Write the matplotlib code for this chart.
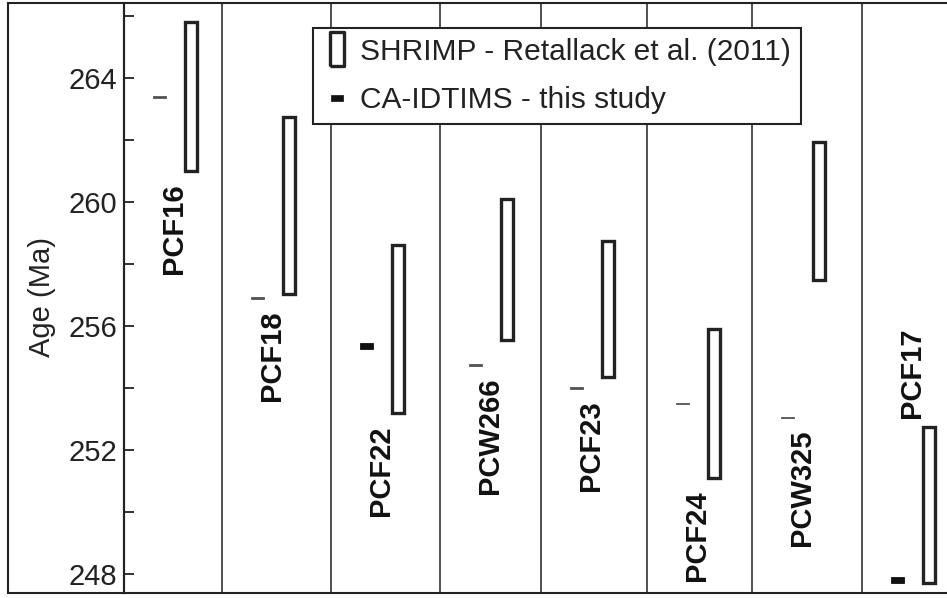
import matplotlib.pyplot as plt
from matplotlib.lines import Line2D
from matplotlib.patches import Rectangle
from matplotlib.path import Path

plt.rcParams['font.family'] = ['Liberation Sans', 'DejaVu Sans']

# data (Ma)
samples = ['PCF16', 'PCF18', 'PCF22', 'PCW266', 'PCF23', 'PCF24', 'PCW325', 'PCF17']
shrimp_lo = [261.0, 257.05, 253.2, 255.55, 254.35, 251.1, 257.5, 247.7]
shrimp_hi = [265.8, 262.75, 258.6, 260.1, 258.75, 255.9, 261.95, 252.75]
tims_age = [263.4, 256.9, 255.35, 254.75, 254.0, 253.5, 253.05, 247.8]
tims_err = [0.03, 0.03, 0.10, 0.03, 0.03, 0.03, 0.03, 0.09]
label_above = [False, False, False, False, False, False, False, True]

# layout (pixel-like x units)
col_edges = [124, 222, 331, 440, 541, 647, 752, 862]
box_off, tick_off, lab_off = 67, 35, 50
W, H = 947, 598
line_c = '#222222'

fig = plt.figure(figsize=(W / 100, H / 100), dpi=100)
ax = fig.add_axes([124 / W, 5 / H, 1 - 124 / W, 590 / H])
ax.set_xlim(124, 947)
ax.set_ylim(247.39, 266.42)

for e in col_edges[1:]:
    ax.axvline(e, color=line_c, lw=1.1)

for i, name in enumerate(samples):
    e = col_edges[i]
    ax.bar(e + box_off, shrimp_hi[i] - shrimp_lo[i], bottom=shrimp_lo[i], width=12,
           fill=False, edgecolor=line_c, linewidth=2.4)
    thick = tims_err[i] > 0.05
    c = '#111111' if thick else '#555555'
    ax.bar(e + tick_off, 2 * tims_err[i], bottom=tims_age[i] - tims_err[i], width=13,
           color=c, edgecolor=c, linewidth=0.6)
    if label_above[i]:
        ax.text(e + lab_off, shrimp_hi[i] + 0.3, name, rotation=90, ha='center', va='bottom',
                fontsize=21, fontweight='bold', color='#111111')
    else:
        y0 = min(shrimp_lo[i], tims_age[i]) - 0.4
        ax.text(e + lab_off, y0, name, rotation=90, ha='center', va='top',
                fontsize=21, fontweight='bold', color='#111111')

ax.set_yticks([248, 252, 256, 260, 264])
ax.set_yticks([250, 254, 258, 262, 266], minor=True)
ax.set_xticks([])
ax.tick_params(axis='y', which='both', direction='in', length=7, width=1.3,
               pad=5, labelsize=21, colors=line_c)
for s in ['left', 'top', 'bottom']:
    ax.spines[s].set_color(line_c)
    ax.spines[s].set_linewidth(1.5)
ax.spines['right'].set_visible(False)

# outer frame around the label area
fig.patches.append(Rectangle((8 / W, 5 / H), (124 - 8) / W, 590 / H, transform=fig.transFigure,
                             fill=False, edgecolor=line_c, linewidth=1.5))
fig.text(42 / W, 1 - 297 / H, 'Age (Ma)', rotation=90, ha='center', va='center',
         fontsize=21, color=line_c)

# legend
tall = Path([(-0.42, -1), (0.42, -1), (0.42, 1), (-0.42, 1), (-0.42, -1)])
dash = Path([(-1, -0.45), (1, -0.45), (1, 0.45), (-1, 0.45), (-1, -0.45)])
handles = [
    Line2D([], [], linestyle='none', marker=tall, markersize=25, markerfacecolor='white',
           markeredgecolor=line_c, markeredgewidth=2.4),
    Line2D([], [], linestyle='none', marker=dash, markersize=9, markerfacecolor='#111111',
           markeredgecolor='#111111', markeredgewidth=0.5),
]
leg = fig.legend(handles, ['SHRIMP - Retallack et al. (2011)', 'CA-IDTIMS - this study'],
                 loc='upper left', bbox_to_anchor=(313 / W, 1 - 28 / H),
                 bbox_transform=fig.transFigure, borderaxespad=0, fontsize=21.5,
                 frameon=True, fancybox=False, framealpha=1, edgecolor=line_c,
                 borderpad=0.33, handlelength=0.94, handletextpad=0.3, labelspacing=0.68)
leg.get_frame().set_linewidth(1.5)
for t in leg.get_texts():
    t.set_color(line_c)

fig.savefig('out.png', dpi=100)
